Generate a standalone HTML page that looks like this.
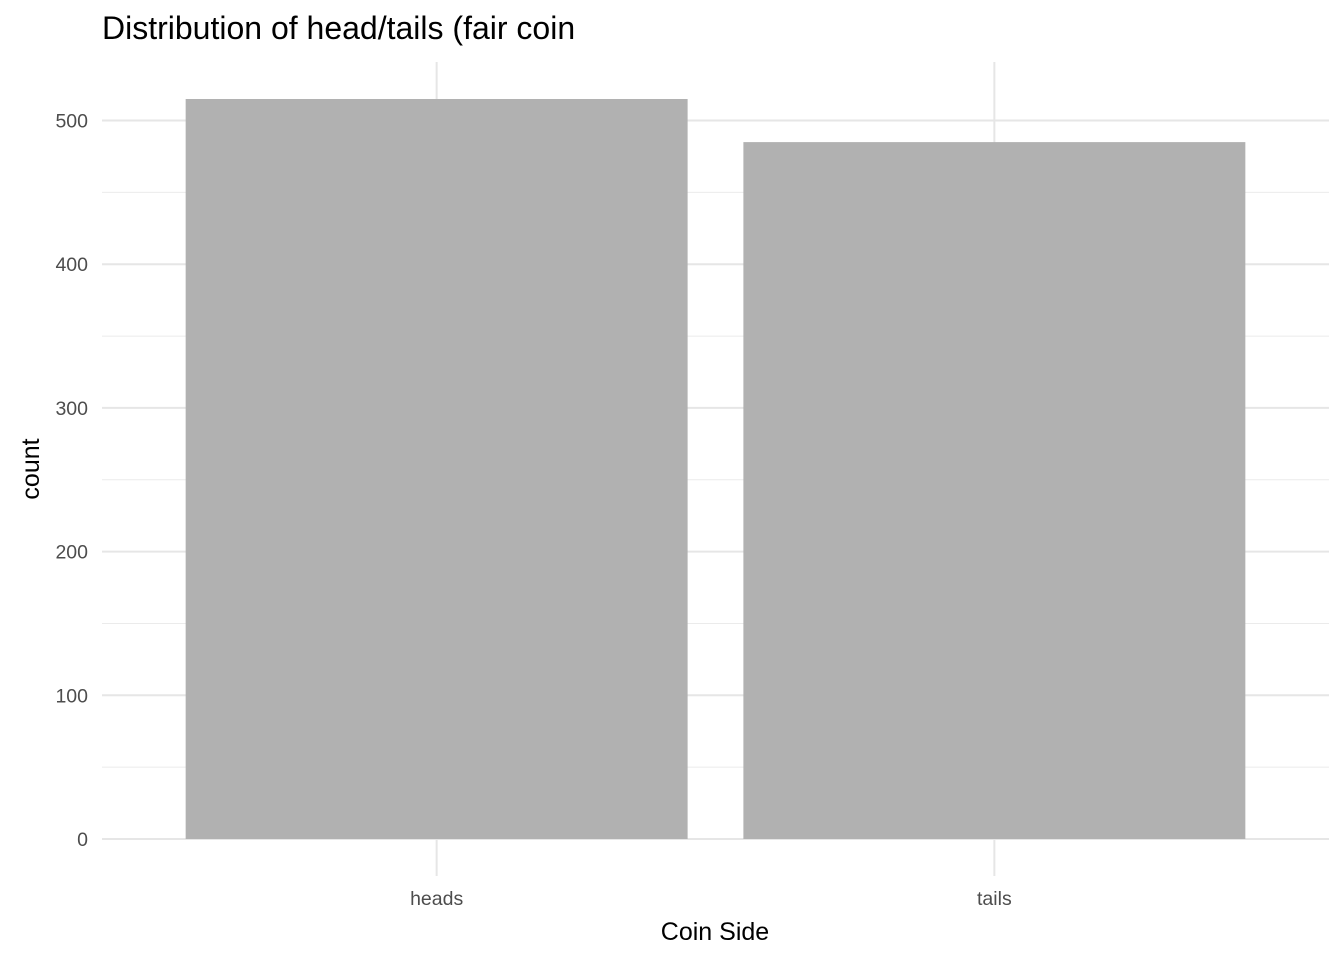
<!DOCTYPE html>
<html><head><meta charset="utf-8"><style>
body{margin:0;background:#fff}
text{font-family:"Liberation Sans",sans-serif}
</style></head><body>
<svg id="chart" width="1344" height="960" xmlns="http://www.w3.org/2000/svg">
<rect width="1344" height="960" fill="#fff"/>
<text x="102" y="39" font-size="32" fill="#000">Distribution of head/tails (fair coin</text>
<g id="grid"></g>
<g id="bars"></g>
<g id="labels"></g>
<text x="715" y="940" font-size="25" text-anchor="middle" fill="#000">Coin Side</text>
<text transform="translate(39,469) rotate(-90)" font-size="25" text-anchor="middle" fill="#000">count</text>
</svg>
<script>
const categories=["heads","tails"];
const counts=[515,485];
const yTicks=[0,100,200,300,400,500];
const yMinor=[50,150,250,350,450];
const NS="http://www.w3.org/2000/svg";
const L=102,R=1329,T=62,B=876;
const yMin=-25.75,yMax=540.75;
const y=v=>B-(v-yMin)/(yMax-yMin)*(B-T);
const step=(R-L)/(categories.length+0.2);
const x=i=>L+step*(0.6+i);
const bw=step*0.9;
function mk(tag,attrs,parent){const e=document.createElementNS(NS,tag);for(const k in attrs)e.setAttribute(k,attrs[k]);document.getElementById(parent).appendChild(e);return e;}
yMinor.forEach(v=>{const e=mk('line',{x1:L,x2:R,y1:y(v),y2:y(v),stroke:'#ebebeb','stroke-width':1},'grid');

});
yTicks.forEach(v=>{const e=mk('line',{x1:L,x2:R,y1:y(v),y2:y(v),stroke:'#e6e6e6','stroke-width':2},'grid');


const t=mk('text',{x:88,y:y(v)+7,'font-size':19.5,'text-anchor':'end',fill:'#4d4d4d'},'labels');t.textContent=v;

});
categories.forEach((c,i)=>{const e=mk('line',{x1:x(i),x2:x(i),y1:T,y2:B,stroke:'#e6e6e6','stroke-width':2},'grid');


const b=mk('rect',{x:x(i)-bw/2,y:y(counts[i]),width:bw,height:y(0)-y(counts[i]),fill:'#b1b1b1'},'bars');


const t=mk('text',{x:x(i),y:905,'font-size':19.5,'text-anchor':'middle',fill:'#4d4d4d'},'labels');t.textContent=c;

});
</script>
</body></html>
